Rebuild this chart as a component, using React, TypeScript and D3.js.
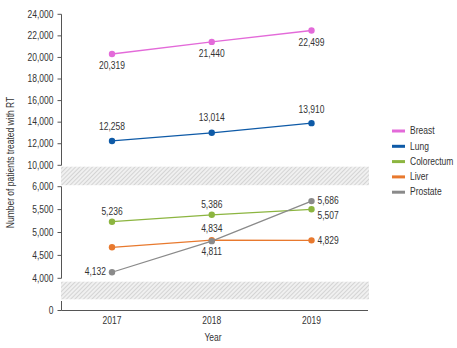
import React from "react";
import * as d3 from "d3";

const years = ["2017", "2018", "2019"];
const seriesNames = ["Breast", "Lung", "Colorectum", "Liver", "Prostate"];
const breast = [20319, 21440, 22499];
const lung = [12258, 13014, 13910];
const colorectum = [5236, 5386, 5507];
const liver = [4677, 4834, 4829];
const prostate = [4132, 4811, 5686];
const upperTicks = [10000, 12000, 14000, 16000, 18000, 20000, 22000, 24000];
const lowerTicks = [4000, 4500, 5000, 5500, 6000];
const labelShown = [
  [true, true, true],
  [true, true, true],
  [true, true, true],
  [false, true, true],
  [true, true, true],
];

const colors = ["#e36ad9", "#0e5aa7", "#8cb540", "#e8792e", "#8a8a8a"];
// label placement: dx, dy, anchor per series/point
const placements: [number, number, string][][] = [
  [[0, 12, "middle"], [0, 12, "middle"], [0, 12, "middle"]],
  [[0, -14, "middle"], [0, -15, "middle"], [0, -13, "middle"]],
  [[0, -10, "middle"], [0, -10, "middle"], [6, 6, "start"]],
  [[0, -11, "middle"], [0, -11, "middle"], [6, 0, "start"]],
  [[-6, 0, "end"], [0, 11, "middle"], [6, 0, "start"]],
];

const FONT = "'Liberation Sans', Arial, sans-serif";
const SX = 0.85;

function T(props: { x: number; y: number; anchor?: string; children: React.ReactNode; rotate?: number }) {
  const { x, y, anchor = "start", children, rotate = 0 } = props;
  return (
    <text
      transform={`translate(${x},${y}) rotate(${rotate}) scale(${SX},1)`}
      textAnchor={anchor as any}
      dominantBaseline="central"
      fontSize={10}
      fill="#333"
    >
      {children}
    </text>
  );
}

export default function App() {
  const W = 457, H = 348;
  const axisX = 61.5;
  const x = d3.scalePoint<string>().domain(years).range([112, 311.5]);
  const yUp = d3.scaleLinear().domain([10000, 24000]).range([165.3, 14.3]);
  const yLow = d3.scaleLinear().domain([4000, 6000]).range([278.3, 186.7]);
  const yZero = 310.5;
  const y = (v: number) => (v >= 10000 ? yUp(v) : yLow(v));
  const fmt = d3.format(",");
  const allSeries = [breast, lung, colorectum, liver, prostate];
  const line = d3.line<number>().x((_, i) => x(years[i])!).y((v) => y(v));
  const hatchX0 = 61, hatchX1 = 369;

  return (
    <svg width={W} height={H} style={{ position: "absolute", left: 0, top: 0 }} fontFamily={FONT}>
      <defs>
        <pattern id="hatch" width="3" height="3" patternUnits="userSpaceOnUse" patternTransform="rotate(45)">
          <rect width="3" height="3" fill="#f0f0f0" />
          <line x1="0" y1="0" x2="0" y2="3" stroke="#bdbdbd" strokeWidth="1.1" />
        </pattern>
      </defs>
      <rect x={hatchX0} y={166.7} width={hatchX1 - hatchX0} height={18.5} fill="url(#hatch)" />
      <rect x={hatchX0} y={281.7} width={hatchX1 - hatchX0} height={17.6} fill="url(#hatch)" />

      <g stroke="#555" strokeWidth={1}>
        <line x1={axisX} x2={axisX} y1={yUp(24000)} y2={yUp(10000)} />
        <line x1={axisX} x2={axisX} y1={yLow(6000)} y2={yLow(4000)} />
        <line x1={axisX} x2={axisX} y1={301} y2={yZero} />
        <line x1={axisX} x2={368} y1={yZero} y2={yZero} />
        {upperTicks.map((t) => (
          <line key={"u" + t} x1={axisX - 4} x2={axisX} y1={yUp(t)} y2={yUp(t)} />
        ))}
        {lowerTicks.map((t) => (
          <line key={"l" + t} x1={axisX - 4} x2={axisX} y1={yLow(t)} y2={yLow(t)} />
        ))}
        <line x1={axisX - 4} x2={axisX} y1={yZero} y2={yZero} />
      </g>
      {upperTicks.map((t) => (
        <T key={"ut" + t} x={53.5} y={yUp(t)} anchor="end">{fmt(t)}</T>
      ))}
      {lowerTicks.map((t) => (
        <T key={"lt" + t} x={53.5} y={yLow(t)} anchor="end">{fmt(t)}</T>
      ))}
      <T x={53.5} y={yZero} anchor="end">0</T>

      <text
        transform={`translate(11,162.5) rotate(-90) scale(${SX},1)`}
        textAnchor="middle"
        dominantBaseline="central"
        fontSize={10}
        fill="#333"
      >
        Number of patients treated with RT
      </text>

      {years.map((yr) => (
        <T key={yr} x={x(yr)!} y={320.7} anchor="middle">{yr}</T>
      ))}
      <T x={213} y={337.5} anchor="middle">Year</T>

      {allSeries.map((s, si) => (
        <g key={si}>
          <path d={line(s) || ""} fill="none" stroke={colors[si]} strokeWidth={1.3} />
          {s.map((v, i) => (
            <circle key={i} cx={x(years[i])} cy={y(v)} r={3.2} fill={colors[si]} />
          ))}
          {s.map((v, i) =>
            labelShown[si][i] ? (
              <T
                key={"t" + i}
                x={x(years[i])! + placements[si][i][0]}
                y={y(v) + placements[si][i][1]}
                anchor={placements[si][i][2]}
              >
                {fmt(v)}
              </T>
            ) : null
          )}
        </g>
      ))}

      {seriesNames.map((n, i) => {
        const ly = 131 + i * 15.3;
        return (
          <g key={n}>
            <rect x={392} y={ly - 1.5} width={13} height={3} fill={colors[i]} />
            <T x={410} y={ly}>{n}</T>
          </g>
        );
      })}
    </svg>
  );
}
